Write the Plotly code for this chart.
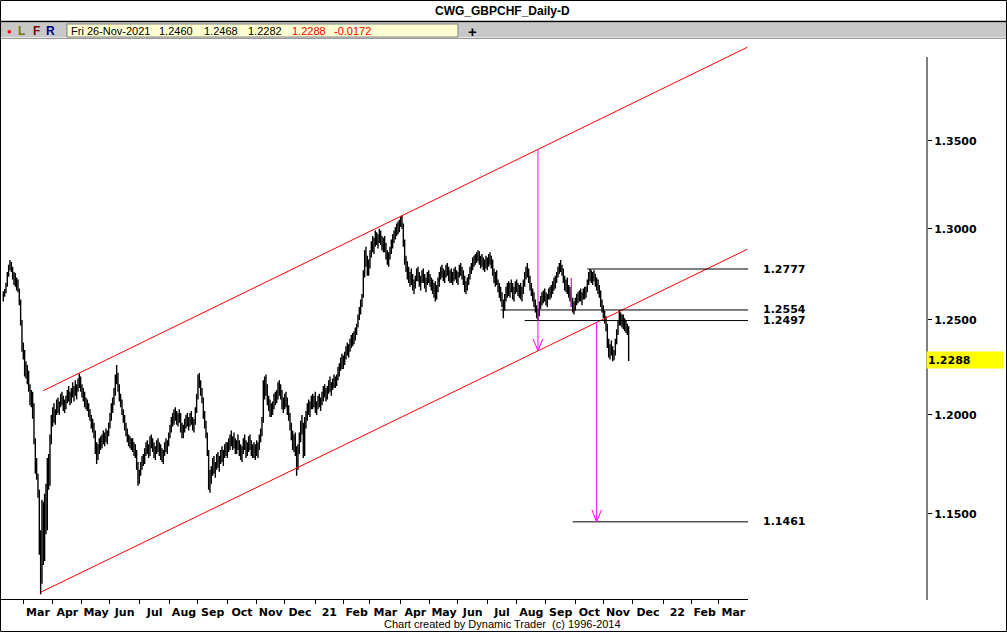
import math
import pandas as pd
import plotly.graph_objects as go

# ------------------------------------------------------------------ data
START = "2020-02-10"          # first daily bar shown
AXIS_END = "2022-03-31"       # right end of the time axis

# daily GBPCHF bars, price x 10000
OPEN = [
    12620,12640,12650,12690,12750,12790,12800,12775,12730,12745,12700,12715,12665,12600,12490,
    12350,12310,12230,12250,12180,12140,12080,12110,12000,11870,11720,11690,11600,11350,11180,11520,11300,11550,11430,11750,11650,11870,
    11980,12010,11980,12020,12060,12030,12050,12090,12070,12040,12060,12080,12120,12090,12070,12130,12110,12140,12120,12150,12170,12190,
    12140,12110,12090,12060,12070,12040,12010,11980,11950,11940,11900,11820,11780,11830,11860,11840,11880,11870,11900,11880,11910,
    11940,11990,12040,12070,12120,12190,12200,12140,12090,12060,12020,11980,11940,11910,11880,11870,11850,11860,11830,11810,11800,11740,
    11660,11700,11740,11770,11760,11810,11840,11820,11800,11870,11850,11830,11800,11820,11850,11830,11810,11790,11780,11800,11840,11830,11860,
    11890,11930,11970,11960,12010,11990,11970,11990,12000,11930,11900,11930,11960,11980,11950,11970,11990,11960,11940,11960,12020,
    12090,12190,12160,12120,12080,12000,11950,11900,11810,11660,11690,11720,11760,11720,11740,11780,11750,11770,11800,11780,11810,11830,
    11810,11840,11850,11880,11860,11870,11850,11820,11860,11840,11810,11790,11830,11860,11840,11800,11850,11870,11840,11810,11830,11800,
    11830,11810,11840,11880,11910,11970,12120,12150,12130,12070,12040,12010,12030,12050,12090,12070,12110,12150,12120,12100,12050,
    12060,12090,12060,12020,11990,11940,11890,11850,11880,11810,11740,11820,11880,11950,11920,11800,11960,11990,12040,12020,12050,12080,12060,
    12080,12030,12050,12080,12060,12070,12100,12130,12110,12090,12140,12160,12140,12150,12170,12180,12160,12200,12230,12250,12280,
    12260,12290,12310,12340,12330,12360,12380,12390,12410,12420,12450,12470,12520,12560,12600,12630,12750,12860,12810,12770,
    12800,12860,12910,12890,12940,12960,12930,12950,12970,12930,12900,12930,12890,12850,12820,12850,12880,12920,12950,12970,12990,13010,12990,
    13040,13050,13020,12920,12820,12790,12750,12720,12740,12710,12680,12700,12730,12760,12730,12700,12720,12750,12720,12690,12710,12740,
    12720,12700,12690,12660,12680,12630,12670,12710,12740,12770,12750,12730,12760,12780,12760,12730,12750,12720,12740,12760,12740,
    12720,12750,12780,12760,12740,12710,12680,12690,12710,12740,12770,12800,12820,12810,12840,12850,12860,12820,12830,12810,12790,12810,
    12800,12820,12840,12820,12800,12760,12720,12740,12700,12670,12640,12620,12590,12560,12620,12660,12680,12650,12690,12670,12630,12660,
    12690,12670,12650,12670,12630,12660,12700,12740,12770,12750,12720,12680,12650,12620,12590,12560,12530,12540,12580,12610,12620,12640,
    12620,12600,12630,12650,12630,12670,12690,12700,12720,12750,12770,12790,12780,12760,12720,12680,12700,12660,12640,12620,12590,12560,
    12580,12600,12620,12610,12640,12620,12630,12650,12630,12670,12700,12740,12750,12720,12740,12730,12700,12690,12660,12640,12590,
    12560,12530,12500,12460,12380,12330,12350,12320,12300,12330,12380,12430,12490,12520,12490,12510,12470,12490,12450,12460,
]
HIGH = [
    12655,12668,12702,12760,12800,12826,12815,12790,12760,12755,12730,12720,12670,12610,12500,
    12380,12340,12280,12260,12230,12160,12130,12120,12060,11880,11780,11700,11620,11420,11570,11560,11600,11650,11780,11800,11900,12000,
    12040,12060,12030,12080,12090,12070,12110,12120,12100,12080,12100,12130,12150,12120,12140,12170,12150,12180,12160,12190,12215,12200,
    12160,12140,12120,12090,12080,12060,12030,12000,11980,11960,11920,11860,11850,11880,11890,11900,11920,11910,11930,11920,11960,
    12010,12060,12090,12140,12210,12260,12220,12160,12110,12080,12030,12000,11960,11930,11900,11890,11880,11880,11860,11850,11820,11760,
    11720,11760,11790,11800,11830,11860,11870,11850,11890,11900,11880,11860,11840,11870,11880,11860,11850,11830,11820,11860,11880,11870,11910,
    11950,11990,12010,12030,12040,12020,12010,12030,12010,11960,11950,11980,12000,12010,11990,12010,12020,11990,11980,12040,12110,
    12210,12218,12180,12140,12090,12020,11970,11910,11820,11720,11740,11780,11790,11760,11800,11810,11790,11820,11840,11820,11850,11860,
    11860,11880,11900,11920,11890,11910,11880,11870,11900,11870,11850,11840,11880,11900,11870,11860,11890,11900,11870,11850,11860,11850,
    11870,11860,11900,11930,11990,12180,12200,12210,12160,12100,12080,12060,12070,12110,12120,12130,12170,12180,12160,12130,12090,
    12110,12120,12090,12050,12010,11960,11920,11900,11910,11840,11850,11910,11970,12000,11960,11990,12020,12060,12080,12070,12100,12110,12100,
    12120,12070,12100,12110,12090,12120,12150,12160,12140,12150,12180,12200,12170,12190,12210,12200,12210,12250,12270,12300,12320,
    12310,12330,12360,12380,12370,12400,12420,12430,12440,12460,12480,12530,12570,12610,12640,12770,12880,12900,12850,12830,
    12880,12930,12960,12950,12990,12980,12970,13000,12990,12960,12950,12960,12920,12880,12870,12900,12940,12970,12990,13010,13030,13040,13050,
    13070,13075,13030,12940,12850,12820,12790,12760,12780,12750,12720,12740,12780,12790,12760,12740,12770,12780,12750,12730,12760,12770,
    12750,12730,12720,12700,12710,12690,12730,12760,12790,12800,12780,12770,12800,12810,12790,12770,12780,12760,12780,12790,12770,
    12760,12800,12810,12790,12770,12740,12710,12730,12750,12790,12810,12840,12850,12860,12870,12880,12875,12850,12860,12840,12830,12850,
    12840,12860,12870,12850,12830,12780,12760,12770,12720,12700,12680,12650,12610,12640,12680,12700,12710,12700,12720,12700,12680,12710,
    12720,12700,12690,12700,12680,12720,12760,12790,12810,12780,12740,12700,12670,12650,12610,12580,12560,12600,12630,12650,12660,12670,
    12650,12640,12670,12680,12690,12710,12730,12740,12760,12790,12810,12826,12800,12780,12740,12720,12730,12690,12680,12650,12620,12600,
    12620,12640,12650,12660,12670,12650,12670,12680,12680,12720,12760,12777,12770,12760,12770,12750,12730,12720,12690,12660,12610,
    12580,12550,12520,12480,12400,12370,12390,12360,12340,12400,12450,12500,12554,12540,12530,12530,12510,12500,12480,12468,
]
LOW = [
    12600,12625,12645,12680,12735,12770,12760,12720,12690,12680,12660,12650,12580,12470,12330,
    12290,12200,12190,12160,12120,12050,12040,11980,11850,11700,11670,11580,11300,11110,11160,11250,11270,11400,11420,11620,11640,11850,
    11940,11960,11950,12000,12010,12000,12040,12050,12020,12010,12030,12060,12070,12050,12060,12090,12070,12100,12080,12120,12140,12120,
    12090,12070,12040,12030,12020,11990,11970,11930,11910,11880,11800,11750,11770,11800,11820,11830,11850,11840,11860,11850,11890,
    11930,11970,12010,12050,12100,12160,12120,12070,12040,12000,11960,11920,11890,11860,11840,11830,11820,11810,11790,11780,11720,11640,
    11650,11690,11720,11740,11750,11790,11800,11780,11790,11830,11810,11780,11770,11800,11810,11790,11770,11760,11750,11790,11810,11800,11840,
    11880,11910,11940,11950,11970,11950,11940,11960,11910,11880,11880,11910,11930,11940,11920,11940,11950,11920,11910,11950,12010,
    12080,12140,12100,12060,11980,11930,11880,11790,11620,11605,11650,11690,11700,11680,11720,11730,11710,11750,11760,11740,11780,11790,
    11780,11810,11820,11840,11820,11830,11800,11800,11820,11790,11770,11760,11800,11820,11780,11790,11810,11820,11790,11780,11780,11770,
    11790,11780,11820,11860,11890,11960,12080,12100,12050,12020,11990,11990,12000,12030,12050,12060,12080,12100,12080,12030,12010,
    12030,12040,12000,11970,11920,11870,11820,11810,11790,11690,11720,11800,11860,11900,11780,11790,11930,11970,12000,11990,12030,12030,12040,
    12010,12000,12030,12040,12020,12050,12070,12090,12070,12080,12110,12120,12100,12130,12140,12140,12150,12180,12200,12230,12240,
    12240,12260,12290,12310,12300,12330,12350,12360,12370,12390,12420,12460,12500,12530,12570,12620,12730,12790,12740,12740,
    12780,12840,12870,12860,12900,12910,12890,12920,12910,12880,12870,12870,12830,12800,12790,12830,12860,12890,12920,12940,12960,12970,12980,
    13010,13000,12900,12800,12760,12720,12700,12680,12690,12660,12640,12670,12710,12710,12680,12660,12700,12700,12670,12650,12690,12700,
    12680,12660,12640,12620,12600,12610,12650,12680,12720,12730,12710,12700,12730,12740,12710,12700,12700,12690,12710,12720,12700,
    12690,12730,12740,12720,12690,12650,12640,12660,12690,12720,12750,12770,12790,12800,12810,12820,12800,12780,12790,12770,12760,12780,
    12770,12790,12800,12780,12740,12700,12680,12690,12650,12620,12600,12570,12510,12550,12600,12620,12630,12620,12650,12610,12600,12640,
    12650,12630,12620,12610,12600,12640,12680,12720,12730,12700,12660,12630,12600,12570,12540,12510,12497,12520,12560,12580,12590,12600,
    12580,12570,12610,12610,12620,12640,12660,12670,12700,12730,12750,12760,12740,12700,12660,12650,12640,12620,12600,12570,12540,12530,
    12550,12580,12590,12600,12600,12580,12610,12610,12620,12650,12690,12710,12700,12690,12710,12680,12660,12640,12620,12570,12540,
    12510,12480,12440,12350,12300,12290,12310,12280,12285,12310,12370,12420,12470,12470,12460,12450,12440,12430,12420,12282,
]
CLOSE = [
    12640,12650,12690,12750,12790,12800,12775,12730,12745,12700,12715,12665,12600,12490,12350,
    12310,12230,12250,12180,12140,12080,12110,12000,11870,11720,11690,11600,11350,11180,11520,11300,11550,11430,11750,11650,11870,11980,
    12010,11980,12020,12060,12030,12050,12090,12070,12040,12060,12080,12120,12090,12070,12130,12110,12140,12120,12150,12170,12190,12140,
    12110,12090,12060,12070,12040,12010,11980,11950,11940,11900,11820,11780,11830,11860,11840,11880,11870,11900,11880,11910,11940,
    11990,12040,12070,12120,12190,12200,12140,12090,12060,12020,11980,11940,11910,11880,11870,11850,11860,11830,11810,11800,11740,11660,
    11700,11740,11770,11760,11810,11840,11820,11800,11870,11850,11830,11800,11820,11850,11830,11810,11790,11780,11800,11840,11830,11860,11890,
    11930,11970,11960,12010,11990,11970,11990,12000,11930,11900,11930,11960,11980,11950,11970,11990,11960,11940,11960,12020,12090,
    12190,12160,12120,12080,12000,11950,11900,11810,11660,11690,11720,11760,11720,11740,11780,11750,11770,11800,11780,11810,11830,11810,
    11840,11850,11880,11860,11870,11850,11820,11860,11840,11810,11790,11830,11860,11840,11800,11850,11870,11840,11810,11830,11800,11830,
    11810,11840,11880,11910,11970,12120,12150,12130,12070,12040,12010,12030,12050,12090,12070,12110,12150,12120,12100,12050,12060,
    12090,12060,12020,11990,11940,11890,11850,11880,11810,11740,11820,11880,11950,11920,11800,11960,11990,12040,12020,12050,12080,12060,12080,
    12030,12050,12080,12060,12070,12100,12130,12110,12090,12140,12160,12140,12150,12170,12180,12160,12200,12230,12250,12280,12260,
    12290,12310,12340,12330,12360,12380,12390,12410,12420,12450,12470,12520,12560,12600,12630,12750,12860,12810,12770,12800,
    12860,12910,12890,12940,12960,12930,12950,12970,12930,12900,12930,12890,12850,12820,12850,12880,12920,12950,12970,12990,13010,12990,13040,
    13050,13020,12920,12820,12790,12750,12720,12740,12710,12680,12700,12730,12760,12730,12700,12720,12750,12720,12690,12710,12740,12720,
    12700,12690,12660,12680,12630,12670,12710,12740,12770,12750,12730,12760,12780,12760,12730,12750,12720,12740,12760,12740,12720,
    12750,12780,12760,12740,12710,12680,12690,12710,12740,12770,12800,12820,12810,12840,12850,12860,12820,12830,12810,12790,12810,12800,
    12820,12840,12820,12800,12760,12720,12740,12700,12670,12640,12620,12590,12560,12620,12660,12680,12650,12690,12670,12630,12660,12690,
    12670,12650,12670,12630,12660,12700,12740,12770,12750,12720,12680,12650,12620,12590,12560,12530,12540,12580,12610,12620,12640,12620,
    12600,12630,12650,12630,12670,12690,12700,12720,12750,12770,12790,12780,12760,12720,12680,12700,12660,12640,12620,12590,12560,12580,
    12600,12620,12610,12640,12620,12630,12650,12630,12670,12700,12740,12750,12720,12740,12730,12700,12690,12660,12640,12590,12560,
    12530,12500,12460,12380,12330,12350,12320,12300,12330,12380,12430,12490,12520,12490,12510,12470,12490,12450,12460,12288,
]

# horizontal price levels and the bar where each line starts
LEVELS = [1.2777, 1.2554, 1.2497, 1.1461]
LEVEL_FROM = ["2021-10-14", "2021-07-15", "2021-08-10", "2021-09-29"]

# red trend channel (anchor date, price)
LOWER_DATES = ["2020-03-19", "2022-03-31"]
LOWER_PRICES = [1.1119, 1.2886]
UPPER_DATES = ["2020-03-23", "2022-03-31"]
UPPER_PRICES = [1.2126, 1.4055]

# magenta projection arrows
ARROW_DATES = ["2021-08-24", "2021-10-25"]
ARROW_FROM = [1.3451, 1.2487]
ARROW_TO = [1.2335, 1.1461]

# magenta marker bar
MARK_DATE = "2021-09-28"
MARK_LOW, MARK_HIGH = 1.2570, 1.2728

Y_TICKS = [1.15, 1.20, 1.25, 1.30, 1.35]
Y_RANGE = [1.1087, 1.4099]

TITLE = "CWG_GBPCHF_Daily-D"
INFO_DATE = "Fri 26-Nov-2021"
INFO_VALUES = ["1.2460", "1.2468", "1.2282", "1.2288", "-0.0172"]
FOOTER = "Chart created by Dynamic Trader&nbsp; (c) 1996-2014"

# ------------------------------------------------------------------ helpers
n = len(CLOSE)
assert len(OPEN) == n and len(HIGH) == n and len(LOW) == n, (len(OPEN), len(HIGH), len(LOW), n)

calendar = pd.bdate_range(START, AXIS_END)
pos = {d.strftime("%Y-%m-%d"): i for i, d in enumerate(calendar)}
xs = list(range(n))
px = lambda v: [a / 10000.0 for a in v]

FIG_W, FIG_H = 1007, 632
M_L, M_R, M_T, M_B = 0, 80, 40, 33
PW = FIG_W - M_L - M_R
PH = FIG_H - M_T - M_B
X_END_PX = 748
BAR_PX = 1.3334
X0_PX = 3.3


def fx(p):
    return p / PW


def fy(p):
    return (FIG_H - M_B - p) / PH


x_lo = (0 - X0_PX) / BAR_PX
x_hi = (X_END_PX - X0_PX) / BAR_PX
log_lo, log_hi = math.log10(Y_RANGE[0]), math.log10(Y_RANGE[1])
log_per_px = (log_hi - log_lo) / PH

# month ticks
starts = [i for i in range(1, len(calendar)) if calendar[i].month != calendar[i - 1].month]
ends = starts[1:] + [len(calendar)]
centers = [(s + e) / 2 for s, e in zip(starts, ends)]
labels = ["<b>%s</b>" % (calendar[s].strftime("%y") if calendar[s].month == 1 else calendar[s].strftime("%b"))
          for s in starts]

fig = go.Figure()

fig.add_trace(go.Ohlc(
    x=xs, open=px(OPEN), high=px(HIGH), low=px(LOW), close=px(CLOSE),
    increasing=dict(line=dict(color="black", width=1.4)),
    decreasing=dict(line=dict(color="black", width=1.4)),
    tickwidth=0.5, hoverinfo="skip", showlegend=False,
))

# channel
for dts, prs in ((LOWER_DATES, LOWER_PRICES), (UPPER_DATES, UPPER_PRICES)):
    fig.add_trace(go.Scatter(x=[pos[d] for d in dts], y=prs, mode="lines",
                             line=dict(color="#ff0000", width=1), hoverinfo="skip", showlegend=False))

# levels
for lv, d in zip(LEVELS, LEVEL_FROM):
    fig.add_trace(go.Scatter(x=[pos[d], x_hi + 2], y=[lv, lv], mode="lines",
                             line=dict(color="black", width=1), hoverinfo="skip", showlegend=False))

# arrows
head_k = 10 ** (12 * log_per_px)
for d, a, b in zip(ARROW_DATES, ARROW_FROM, ARROW_TO):
    i = pos[d]
    fig.add_trace(go.Scatter(x=[i, i], y=[a, b], mode="lines",
                             line=dict(color="#ff00ff", width=1), hoverinfo="skip", showlegend=False))
    fig.add_trace(go.Scatter(x=[i - 3.6, i, i + 3.6], y=[b * head_k, b, b * head_k], mode="lines",
                             line=dict(color="#ff00ff", width=1), hoverinfo="skip", showlegend=False))

# marker bar
fig.add_trace(go.Scatter(x=[pos[MARK_DATE]] * 2, y=[MARK_LOW, MARK_HIGH], mode="lines",
                         line=dict(color="#ff00ff", width=1.2), hoverinfo="skip", showlegend=False))

BOLD = "DejaVu Sans"
SANS = "Liberation Sans, Arial, sans-serif"

shapes = [
    dict(type="rect", xref="paper", yref="paper", x0=fx(0), x1=fx(FIG_W), y0=fy(37.5), y1=fy(22.5),
         fillcolor="#c8c8c8", line=dict(width=0)),
    dict(type="rect", xref="paper", yref="paper", x0=fx(67), x1=fx(458), y0=fy(37), y1=fy(24),
         fillcolor="#ffffd4", line=dict(color="#808080", width=1)),
    dict(type="line", xref="paper", yref="paper", x0=fx(0), x1=fx(FIG_W), y0=fy(21.5), y1=fy(21.5),
         line=dict(color="black", width=1.5)),
    dict(type="line", xref="paper", yref="paper", x0=fx(0), x1=fx(FIG_W), y0=fy(38.5), y1=fy(38.5),
         line=dict(color="#9a9a9a", width=1)),
    dict(type="line", xref="paper", yref="paper", x0=1, x1=1, y0=fy(57), y1=fy(600),
         line=dict(color="black", width=1)),
    dict(type="rect", xref="paper", yref="paper", x0=fx(0.5), x1=fx(FIG_W - 0.5), y0=fy(FIG_H - 0.5), y1=fy(0.5),
         line=dict(color="black", width=1)),
]

ann = []


def text(x, y, t, size=11, color="black", family=SANS, anchor="left"):
    ann.append(dict(xref="paper", yref="paper", x=fx(x), y=fy(y), text=t, showarrow=False,
                    xanchor=anchor, yanchor="middle", font=dict(size=size, color=color, family=family)))


text(503, 10.5, "<b>%s</b>" % TITLE, size=12, anchor="center")
text(9, 31.5, "●", size=8, color="#ff0000", anchor="center")
text(21, 31, "<b>L</b>", size=12, color="#7a7a00", anchor="center")
text(36, 31, "<b>F</b>", size=12, color="#800000", anchor="center")
text(50, 31, "<b>R</b>", size=12, color="#000080", anchor="center")
text(69, 31, INFO_DATE)
info_x = [157, 202, 246, 290, 332]
info_col = ["black", "black", "black", "#ff0000", "#ff0000"]
for xx, v, c in zip(info_x, INFO_VALUES, info_col):
    text(xx, 31, v, color=c)
text(472, 31, "<b>+</b>", size=15, anchor="center")
text(502, 624, FOOTER, size=11, anchor="center")

for lv in LEVELS:
    ann.append(dict(xref="paper", yref="y", x=fx(761), y=math.log10(lv), text="<b>%.4f</b>" % lv,
                    showarrow=False, xanchor="left", yanchor="middle",
                    font=dict(size=11, color="black", family=BOLD)))

last = CLOSE[-1] / 10000.0
ann.append(dict(xref="paper", yref="y", x=fx(926), y=math.log10(last), text="<b>%.4f</b>" % last,
                showarrow=False, xanchor="left", yanchor="middle", align="left",
                bgcolor="#ffff00", width=74, height=14, borderpad=1,
                font=dict(size=11, color="black", family=BOLD)))

fig.update_layout(
    width=FIG_W, height=FIG_H,
    margin=dict(l=M_L, r=M_R, t=M_T, b=M_B, pad=0),
    paper_bgcolor="white", plot_bgcolor="white",
    showlegend=False, hovermode=False,
    shapes=shapes, annotations=ann,
    xaxis=dict(
        domain=[0, X_END_PX / PW], range=[x_lo, x_hi],
        rangeslider=dict(visible=False),
        showgrid=False, zeroline=False, showline=True, linecolor="black", linewidth=1,
        tickmode="array", tickvals=centers, ticktext=labels, ticks="",
        tickfont=dict(size=11, color="black", family=BOLD),
        ticklabelstandoff=3,
        minor=dict(tickmode="array", tickvals=starts, ticks="outside", ticklen=4,
                   tickcolor="black", tickwidth=1, showgrid=False),
    ),
    yaxis=dict(
        type="log", range=[log_lo, log_hi],
        anchor="free", position=1, side="right",
        showgrid=False, zeroline=False, showline=False,
        tickmode="array", tickvals=Y_TICKS, ticktext=["<b>%.4f</b>" % v for v in Y_TICKS],
        ticks="outside", ticklen=4, tickcolor="black", tickwidth=1,
        tickfont=dict(size=11, color="black", family=BOLD),
    ),
)

fig.write_html("out.html", config={"displayModeBar": False},
               post_script="document.body.style.margin='0';document.body.style.overflow='hidden';")
